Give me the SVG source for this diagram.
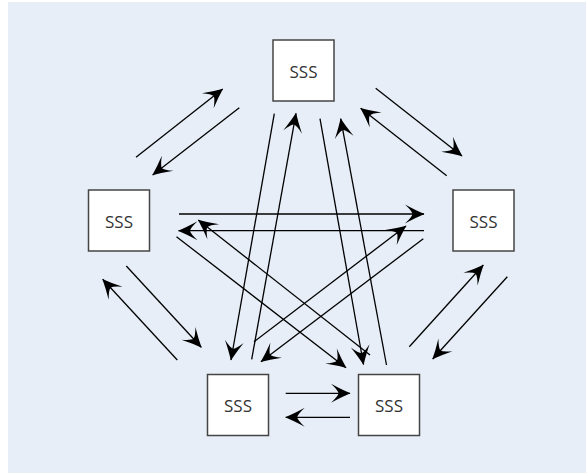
<svg xmlns="http://www.w3.org/2000/svg" width="586" height="473" viewBox="0 0 586 473">
<style>
.bg{fill:#e7eef7}
.box{fill:#ffffff;stroke:#454545;stroke-width:1.5}
.lbl{font-family:"Open Sans","Noto Sans",sans-serif;font-size:17px;fill:#333333;text-anchor:middle;dominant-baseline:central}
.c{stroke:#000000;stroke-width:1.3;fill:none;marker-end:url(#ah)}
</style>
<defs>
<marker id="ah" markerUnits="userSpaceOnUse" viewBox="-21 -11 23 22" markerWidth="23" markerHeight="22" refX="0" refY="0" orient="auto">
<path d="M0.5,0 Q-8,-3.5 -19,-9.5 Q-12,-3 -11.5,0 Q-12,3 -19,9.5 Q-8,3.5 0.5,0 Z" fill="#000000"/>
</marker>
</defs>
<rect class="bg" x="8" y="2" width="578" height="471"/>
<g id="connectors">
<line class="c" x1="136" y1="157.3" x2="222.7" y2="89"/>
<line class="c" x1="239.3" y1="107.7" x2="152.7" y2="175"/>
<line class="c" x1="375.7" y1="88.3" x2="462" y2="156"/>
<line class="c" x1="446.7" y1="175.7" x2="360.7" y2="108.3"/>
<line class="c" x1="274.3" y1="113.7" x2="231" y2="360"/>
<line class="c" x1="251.7" y1="359.3" x2="296" y2="113.3"/>
<line class="c" x1="320" y1="118.7" x2="363.5" y2="364.5"/>
<line class="c" x1="386.5" y1="365" x2="340.7" y2="118.7"/>
<line class="c" x1="179" y1="214" x2="424" y2="214"/>
<line class="c" x1="424" y1="230.7" x2="178.5" y2="230.7"/>
<line class="c" x1="126.3" y1="266" x2="201.3" y2="347.3"/>
<line class="c" x1="177.3" y1="360" x2="102.7" y2="279.3"/>
<line class="c" x1="176.5" y1="236.7" x2="346" y2="367.7"/>
<line class="c" x1="370" y1="355" x2="198.3" y2="220"/>
<line class="c" x1="423.3" y1="238.7" x2="261" y2="361.7"/>
<line class="c" x1="254" y1="341.7" x2="406" y2="226"/>
<line class="c" x1="409.3" y1="346.7" x2="483.3" y2="265"/>
<line class="c" x1="507.3" y1="276.7" x2="432.7" y2="359"/>
<line class="c" x1="285.7" y1="393.3" x2="350" y2="393.3"/>
<line class="c" x1="350" y1="417.3" x2="285.7" y2="417.3"/>
</g>
<g id="node-top">
<rect class="box" x="273" y="40" width="61" height="61"/>
<text class="lbl" x="303.5" y="71">SSS</text>
</g>
<g id="node-left">
<rect class="box" x="88.5" y="190" width="61" height="61"/>
<text class="lbl" x="119" y="221">SSS</text>
</g>
<g id="node-right">
<rect class="box" x="453" y="190" width="61" height="61"/>
<text class="lbl" x="483.5" y="221">SSS</text>
</g>
<g id="node-bottom-left">
<rect class="box" x="207.5" y="374.5" width="61" height="61"/>
<text class="lbl" x="238" y="405.5">SSS</text>
</g>
<g id="node-bottom-right">
<rect class="box" x="358.5" y="374.5" width="61" height="61"/>
<text class="lbl" x="389" y="405.5">SSS</text>
</g>
</svg>
